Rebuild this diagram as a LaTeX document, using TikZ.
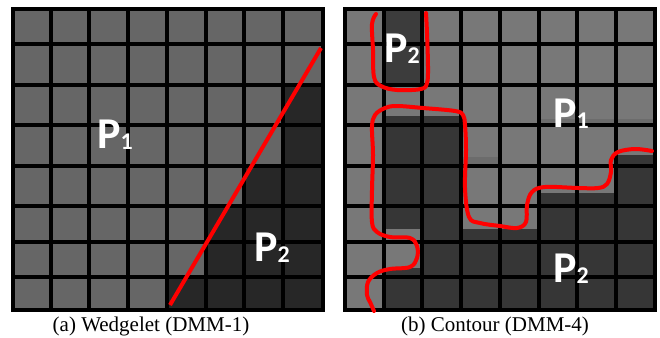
\documentclass[tikz,border=0pt]{standalone}
\usepackage{fontspec}
\setmainfont{Liberation Serif}
\newfontfamily\labfont{Carlito}
\begin{document}
\begin{tikzpicture}[x=1pt,y=-1pt,
  gridline/.style={black,line width=4.2pt,line cap=rect},
  border/.style={black,line width=4.5pt,line join=miter},
  contour/.style={red,line width=4pt,line cap=round,line join=round},
  lab/.style={text=white,inner sep=0pt,anchor=base west,
    font=\labfont\bfseries\fontsize{44}{44}\selectfont},
  captext/.style={inner sep=0pt,anchor=base,font=\fontsize{21}{21}\selectfont}]
\definecolor{lgL}{HTML}{666666}
\definecolor{dkL}{HTML}{272727}
\definecolor{lgR}{HTML}{787878}
\definecolor{dkR}{HTML}{363636}
\definecolor{dkT}{HTML}{3C3C3C}
\definecolor{mdR}{HTML}{6C6C6C}
\useasboundingbox[fill=white] (0,0) rectangle (660,337);
% ---------- left grid (Wedgelet) ----------
\fill[lgL] (13,9) rectangle (323,310);
\fill[dkL] (283,85) rectangle (323,166);
\fill[dkL] (244,166) rectangle (323,206);
\fill[dkL] (206,206) rectangle (323,277);
\fill[dkL] (167,277) rectangle (323,310);
\foreach \x in {51,89,128,167,206,244,283}
  \draw[gridline] (\x,9) -- (\x,310);
\foreach \y in {44,85,125,166,206,242,277}
  \draw[gridline] (13,\y) -- (323,\y);
\draw[border] (13,9) rectangle (323,310);
\coordinate (w1) at (170,305);
\coordinate (w2) at (321,48);
\draw[red,line width=4pt] (w1) -- (w2);
\node[lab] (lp1) at (97.5,148) {P\kern-0.5pt\raisebox{-1pt}{\fontsize{24}{24}\selectfont 1}};
\node[lab] (lp2) at (254.5,261) {P\kern-0.5pt\raisebox{-1pt}{\fontsize{24}{24}\selectfont 2}};
\node[captext] (capa) at (151,331) {(a) Wedgelet (DMM-1)};
% ---------- right grid (Contour) ----------
\fill[lgR] (345,9) rectangle (655,310);
\fill[dkT] (384,9) rectangle (422,85);
\fill[mdR] (539,119) rectangle (655,125);
\fill[mdR] (461,157) rectangle (500,166);
\fill[dkR] (384,116) rectangle (461,229);
\fill[dkR] (422,229) rectangle (655,310);
\fill[dkR] (539,193) rectangle (616,229);
\fill[dkR] (616,155) rectangle (655,229);
\fill[dkR] (384,268) rectangle (422,310);
\foreach \x in {384,422,461,500,539,577,616}
  \draw[gridline] (\x,9) -- (\x,310);
\foreach \y in {44,85,125,166,206,242,277}
  \draw[gridline] (345,\y) -- (655,\y);
\draw[border] (345,9) rectangle (655,310);
\draw[contour] plot[smooth,tension=0.6] coordinates {
  (376,14) (372,24) (373,50) (374,77) (381,86) (397,90) (421,89)
  (427,83) (428,67) (427,33) (426,13)};
\draw[contour] plot[smooth,tension=0.6] coordinates {
  (652,151) (635,149) (618,152) (611,160) (611,172) (607,184) (598,188)
  (578,188) (545,187) (532,192) (527,205) (526,222) (517,228) (500,226)
  (480,223) (469,217) (465,188) (466,150) (465,125) (463,115) (455,111)
  (423,108) (397,106) (385,108) (375,115) (372,127) (373,155) (372,190)
  (372,222) (377,232) (390,237) (410,238) (417,246) (417,258) (410,267)
  (390,269) (377,273) (368,282) (367,295) (370,302) (374,311)};
\node[lab] (rp2a) at (384.5,63) {P\kern-0.5pt\raisebox{-1pt}{\fontsize{24}{24}\selectfont 2}};
\node[lab] (rp1) at (553.5,127) {P\kern-0.5pt\raisebox{-1pt}{\fontsize{24}{24}\selectfont 1}};
\node[lab] (rp2b) at (553.5,282) {P\kern-0.5pt\raisebox{-1pt}{\fontsize{24}{24}\selectfont 2}};
\node[captext] (capb) at (495,331) {(b) Contour (DMM-4)};
\end{tikzpicture}
\end{document}
